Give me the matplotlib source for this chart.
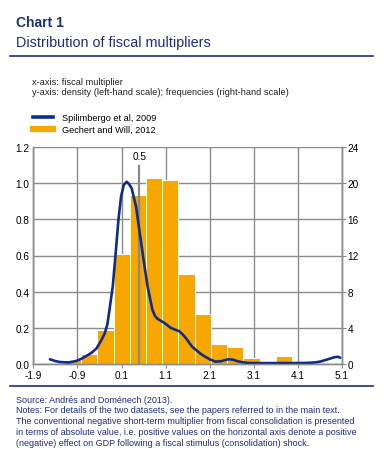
import numpy as np
import matplotlib.pyplot as plt
from matplotlib.lines import Line2D

plt.rcParams['font.family'] = ['Liberation Sans', 'DejaVu Sans']

# Gechert and Will (2012): histogram of multipliers, density scale
bin_centres = [-1.0, -0.632, -0.264, 0.104, 0.472, 0.84, 1.208, 1.576,
               1.944, 2.312, 2.68, 3.048, 3.416, 3.784]
bar_density = [0.02, 0.053, 0.19, 0.61, 0.935, 1.03, 1.015, 0.5,
               0.274, 0.108, 0.092, 0.031, 0.0, 0.042]

# Spilimbergo et al (2009): kernel density
kde_x = [-1.524, -1.40, -1.30, -1.11, -0.92, -0.80, -0.70, -0.58, -0.47, -0.36,
         -0.28, -0.22, -0.173, -0.098, -0.045, 0.03, 0.09, 0.15, 0.217, 0.27,
         0.33, 0.43, 0.503, 0.60, 0.69, 0.80, 0.86, 0.915, 1.066, 1.217, 1.31,
         1.404, 1.48, 1.555, 1.70, 1.89, 1.97, 2.10, 2.23, 2.35, 2.45, 2.53,
         2.62, 2.72, 2.83, 2.95, 3.05, 3.50, 4.00, 4.30, 4.50, 4.62, 4.78,
         4.92, 5.0, 5.06]
kde_y = [0.026, 0.016, 0.011, 0.008, 0.017, 0.030, 0.044, 0.062, 0.085, 0.13,
         0.17, 0.22, 0.30, 0.43, 0.577, 0.797, 0.926, 0.99, 1.008, 0.995,
         0.972, 0.87, 0.742, 0.577, 0.43, 0.30, 0.265, 0.25, 0.228, 0.20, 0.19,
         0.182, 0.165, 0.145, 0.096, 0.057, 0.044, 0.026, 0.013, 0.015, 0.022,
         0.026, 0.024, 0.016, 0.010, 0.006, 0.005, 0.005, 0.005, 0.006, 0.009,
         0.014, 0.026, 0.037, 0.040, 0.035]

xticks = [-1.9, -0.9, 0.1, 1.1, 2.1, 3.1, 4.1, 5.1]
left_ticks = [0.0, 0.2, 0.4, 0.6, 0.8, 1.0, 1.2]
right_ticks = [0, 4, 8, 12, 16, 20, 24]
marker_x = 0.5

navy = '#1b2f7d'
line_blue = '#0f2c8c'
orange = '#f6a800'
grid_grey = '#8c8c8c'

fig = plt.figure(figsize=(3.84, 4.56), dpi=100)
ax = fig.add_axes([0.0868, 0.1996, 0.8038, 0.4758])
ax2 = ax.twinx()

ax.bar(bin_centres, bar_density, width=0.368, color=orange,
       edgecolor='white', linewidth=0.7, zorder=2)
ax.plot(kde_x, kde_y, color=line_blue, lw=1.9, zorder=4,
        solid_capstyle='round', solid_joinstyle='round')
ax.plot([marker_x, marker_x], [0, 1.095], color='#8a8a8a', lw=1.6, zorder=3)
ax.text(marker_x, 1.125, '0.5', ha='center', va='bottom', fontsize=7.2)

ax.set_xlim(-1.9, 5.1)
ax.set_ylim(0, 1.2)
ax2.set_ylim(0, 24)
ax.set_xticks(xticks)
ax.set_xticklabels([str(t) for t in xticks])
ax.set_yticks(left_ticks)
ax.set_yticklabels(['%.1f' % t for t in left_ticks])
ax2.set_yticks(right_ticks)
ax2.set_yticklabels([str(t) for t in right_ticks])

ax.grid(True, color=grid_grey, lw=1.0, zorder=0)
ax.set_axisbelow(True)
for a in (ax, ax2):
    a.spines['top'].set_visible(False)
    for s in ('left', 'right', 'bottom'):
        a.spines[s].set_color(grid_grey)
        a.spines[s].set_linewidth(1.0)
ax.tick_params(axis='x', length=3, color=grid_grey, labelsize=7.2, pad=1)
ax.tick_params(axis='y', length=0, labelsize=7.2, pad=3)
ax2.tick_params(axis='y', length=3, color=grid_grey, labelsize=7.2, pad=1)

# header
fig.text(0.042, 0.9415, 'Chart 1', fontsize=10, fontweight='bold', color=navy)
fig.text(0.042, 0.8976, 'Distribution of fiscal multipliers', fontsize=10.4, color=navy)
fig.add_artist(Line2D([0.026, 0.971], [0.876, 0.876], color=navy, lw=1.2))

fig.text(0.083, 0.813, 'x-axis: fiscal multiplier', fontsize=6.7, color='#222222')
fig.text(0.083, 0.792, 'y-axis: density (left-hand scale); frequencies (right-hand scale)',
         fontsize=6.7, color='#222222')

handles = [Line2D([], [], color=line_blue, lw=2.6),
           Line2D([], [], color=orange, lw=4.5)]
fig.legend(handles, ['Spilimbergo et al, 2009', 'Gechert and Will, 2012'],
           loc='upper left', bbox_to_anchor=(0.086, 0.750), frameon=False,
           fontsize=6.6, handlelength=2.2, handletextpad=1.0,
           labelspacing=0.35, borderaxespad=0, borderpad=0)

# footer
fig.add_artist(Line2D([0.026, 0.971], [0.151, 0.151], color=navy, lw=1.2))
notes = ['Source: Andrés and Doménech (2013).',
         'Notes: For details of the two datasets, see the papers referred to in the main text.',
         'The conventional negative short-term multiplier from fiscal consolidation is presented',
         'in terms of absolute value, i.e. positive values on the horizontal axis denote a positive',
         '(negative) effect on GDP following a fiscal stimulus (consolidation) shock.']
for i, line in enumerate(notes):
    fig.text(0.042, 0.117 - i * 0.0235, line, fontsize=6.5, color=navy)

fig.savefig('out.png', dpi=100)
